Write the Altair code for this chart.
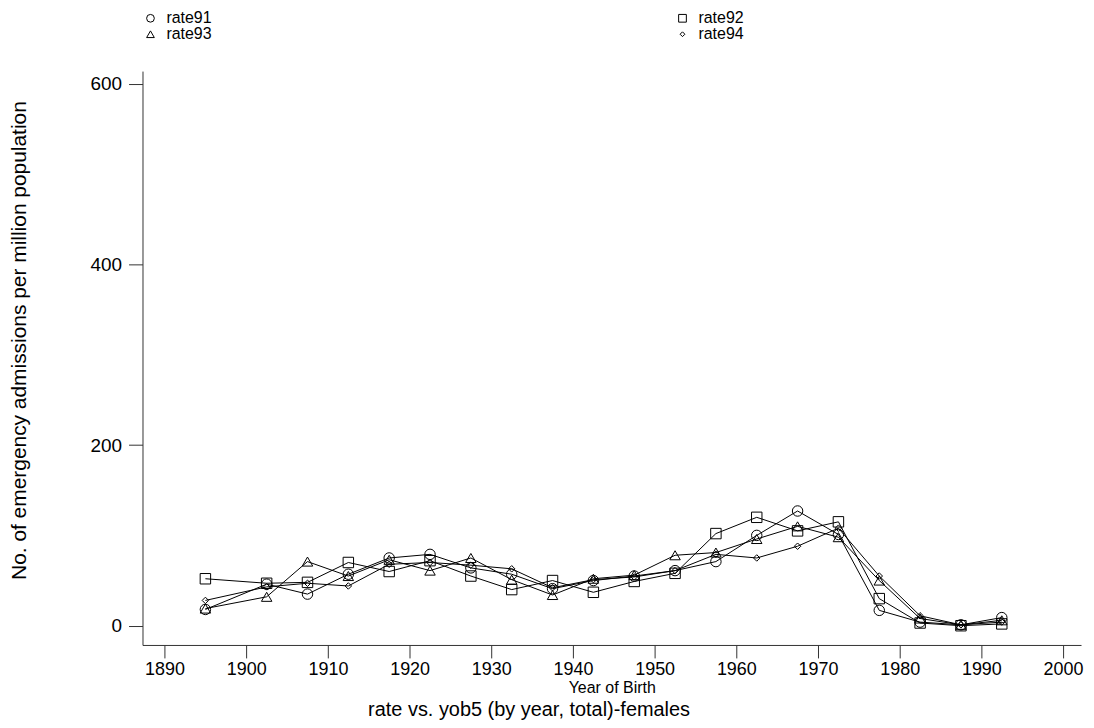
import altair as alt
import pandas as pd

years = [1895, 1902.5, 1907.5, 1912.5, 1917.5, 1922.5, 1927.5, 1932.5, 1937.5, 1942.5,
         1947.5, 1952.5, 1957.5, 1962.5, 1967.5, 1972.5, 1977.5, 1982.5, 1987.5, 1992.5]
rate91 = [18, 46, 35, 57, 75, 79, 64, 57, 41, 50, 55, 61, 71, 100, 127, 101, 17, 4, 1, 9]
rate92 = [52, 47, 48, 70, 60, 72, 55, 40, 50, 37, 49, 58, 102, 120, 105, 115, 30, 3, 0, 2]
rate93 = [19, 32, 71, 55, 73, 61, 75, 51, 34, 52, 56, 78, 81, 96, 110, 98, 50, 8, 1, 6]
rate94 = [28, 43, 47, 44, 68, 70, 67, 63, 42, 51, 54, 61, 79, 75, 88, 108, 55, 11, 1, 4]

series_names = ["rate91", "rate92", "rate93", "rate94"]
series_vals = [rate91, rate92, rate93, rate94]
# legend order (column-major grid): rate91, rate93 | rate92, rate94
legend_order = ["rate91", "rate93", "rate92", "rate94"]
# small diamond as a custom path so it stays smaller than the other markers
shape_of = {"rate91": "circle", "rate92": "square", "rate93": "triangle-up",
            "rate94": "M0,-0.62L0.62,0L0,0.62L-0.62,0Z"}
x_ticks = [1890, 1900, 1910, 1920, 1930, 1940, 1950, 1960, 1970, 1980, 1990, 2000]
y_ticks = [0, 200, 400, 600]

rows = []
for name, vals in zip(series_names, series_vals):
    for yr, v in zip(years, vals):
        rows.append({"yob": yr, "rate": v, "series": name})
df = pd.DataFrame(rows)

FONT = "Liberation Sans"

x_enc = alt.X("yob:Q",
              scale=alt.Scale(domain=[1887.3, 2002.2], nice=False, zero=False),
              axis=alt.Axis(values=x_ticks, format="d", title="Year of Birth",
                            grid=False, tickSize=13, labelPadding=3,
                            labelFontSize=18, titleFontSize=16, titleFontWeight="normal",
                            titleY=43, titleBaseline="middle",
                            domainColor="#333333", tickColor="#333333",
                            labelColor="black", titleColor="black",
                            labelFont=FONT, titleFont=FONT))
y_enc = alt.Y("rate:Q",
              scale=alt.Scale(domain=[-21.3, 614], nice=False, zero=False),
              axis=alt.Axis(values=y_ticks, title="No. of emergency admissions per million population",
                            grid=False, tickSize=14, labelPadding=7,
                            labelFontSize=19, titleFontSize=21, titleFontWeight="normal",
                            titleX=-123, titleY=270, titleAngle=-90, titleBaseline="middle",
                            domainColor="#333333", tickColor="#333333",
                            labelColor="black", titleColor="black",
                            labelFont=FONT, titleFont=FONT))

lines = alt.Chart(df).mark_line(color="black", strokeWidth=1).encode(
    x=x_enc, y=y_enc, detail="series:N", order="yob:Q"
)

points = alt.Chart(df).mark_point(filled=False, color="black", strokeWidth=1,
                                  opacity=1, size=110).encode(
    x=x_enc, y=y_enc,
    shape=alt.Shape("series:N",
                    scale=alt.Scale(domain=legend_order,
                                    range=[shape_of[s] for s in legend_order]),
                    legend=alt.Legend(title=None, orient="none", legendX=0, legendY=-61,
                                      columns=2, columnPadding=464, rowPadding=0,
                                      symbolSize=60, symbolStrokeColor="black",
                                      symbolStrokeWidth=1,
                                      labelFontSize=16, labelFont=FONT, labelColor="black",
                                      labelOffset=8, padding=0)),
)

chart = alt.layer(lines, points).properties(
    width=942, height=576,
    background="white",
    autosize=alt.AutoSizeParams(type="none"),
    padding={"left": 135, "top": 62, "right": 5, "bottom": 74},
    title=alt.TitleParams("rate vs. yob5 (by year, total)-females", orient="bottom",
                          anchor="middle", dx=-83, dy=4, offset=0, fontSize=20,
                          fontWeight="normal", font=FONT, color="black"),
).configure_view(stroke="transparent")

chart.save("out.html", embed_options={"renderer": "svg", "actions": False})
